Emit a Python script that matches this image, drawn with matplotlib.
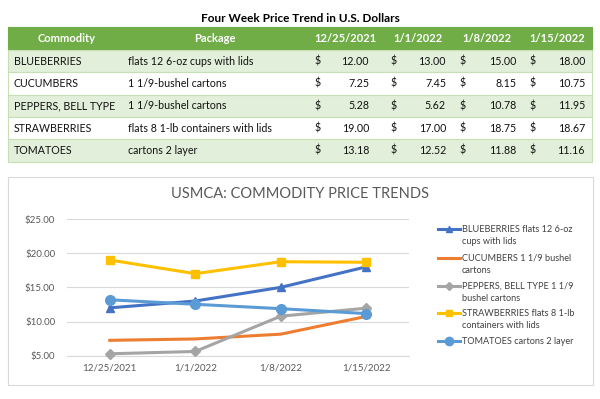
import matplotlib.pyplot as plt
from matplotlib.patches import Rectangle
from matplotlib.ticker import FuncFormatter

plt.rcParams['font.family'] = ['Lato', 'DejaVu Sans']

# data
dates = ['12/25/2021', '1/1/2022', '1/8/2022', '1/15/2022']
commodities = ['BLUEBERRIES', 'CUCUMBERS', 'PEPPERS, BELL TYPE', 'STRAWBERRIES', 'TOMATOES']
packages = ['flats 12 6-oz cups with lids', '1 1/9-bushel cartons', '1 1/9-bushel cartons',
            'flats 8 1-lb containers with lids', 'cartons 2 layer']
legend_labels = ['BLUEBERRIES flats 12 6-oz\ncups with lids',
                 'CUCUMBERS 1 1/9 bushel\ncartons',
                 'PEPPERS, BELL TYPE 1 1/9\nbushel cartons',
                 'STRAWBERRIES flats 8 1-lb\ncontainers with lids',
                 'TOMATOES cartons 2 layer']
blueberries = [12.00, 13.00, 15.00, 18.00]
cucumbers = [7.25, 7.45, 8.15, 10.75]
peppers = [5.28, 5.62, 10.78, 11.95]
strawberries = [19.00, 17.00, 18.75, 18.67]
tomatoes = [13.18, 12.52, 11.88, 11.16]
prices = [blueberries, cucumbers, peppers, strawberries, tomatoes]

colors = ['#4472C4', '#ED7D31', '#A5A5A5', '#FFC000', '#5B9BD5']
markers = ['^', None, 'D', 's', 'o']
msizes = [6, 0, 5, 6, 7]

fig = plt.figure(figsize=(6, 3.99), dpi=100)
bg = fig.add_axes([0, 0, 1, 1])
bg.set_xlim(0, 600)
bg.set_ylim(399, 0)
bg.axis('off')

# ---- table ----
bg.text(300, 19, 'Four Week Price Trend in U.S. Dollars', ha='center', va='center',
        fontsize=8.5, fontweight='bold', color='#000000')
tx0, tx1 = 7.5, 592
bg.add_patch(Rectangle((tx0, 27), tx1 - tx0, 23, fc='#70AD47', ec='#70AD47', lw=0.8))
head_x = [67, 215, 345, 418, 487, 557]
for x, h in zip(head_x, ['Commodity', 'Package'] + dates):
    bg.text(x, 38.5, h, ha='center', va='center', fontsize=8, fontweight='bold', color='white')

row_h = 22.3
dollar_x = [318, 394, 463, 533]
value_x = [369, 446, 516, 585]
for i in range(len(commodities)):
    top = 50 + i * row_h
    fc = '#E2EFDA' if i % 2 == 0 else 'white'
    bg.add_patch(Rectangle((tx0, top), tx1 - tx0, row_h, fc=fc, ec='#C6E0B4', lw=0.8))
    yc = top + row_h / 2
    bg.text(14, yc, commodities[i], ha='left', va='center', fontsize=7.7, color='#111111')
    bg.text(128, yc, packages[i], ha='left', va='center', fontsize=7.7, color='#111111')
    for j in range(len(dates)):
        bg.text(dollar_x[j], yc, '$', ha='center', va='center', fontsize=7.7, color='#111111')
        bg.text(value_x[j], yc, '%.2f' % prices[i][j], ha='right', va='center',
                fontsize=7.7, color='#111111')

# ---- chart ----
bg.add_patch(Rectangle((7.5, 177), 585.5, 208, fc='white', ec='#D9D9D9', lw=0.8))
bg.text(300, 194, 'USMCA: COMMODITY PRICE TRENDS', ha='center', va='center',
        fontsize=10.5, color='#595959')

ax = fig.add_axes([67 / 600, (399 - 355.7) / 399, (409 - 67) / 600, (355.7 - 219) / 399])
ax.set_facecolor('none')
x = list(range(len(dates)))
for vals, c, m, ms in zip(prices, colors, markers, msizes):
    ax.plot(x, vals, color=c, lw=2.2, marker=m, markersize=ms, clip_on=False, zorder=3)
ax.set_xlim(-0.5, len(dates) - 0.5)
ax.set_ylim(5, 25)
ax.set_yticks([5, 10, 15, 20, 25])
ax.yaxis.set_major_formatter(FuncFormatter(lambda v, p: '$%.2f' % v))
ax.set_xticks(x)
ax.set_xticklabels(dates)
ax.grid(axis='y', color='#D9D9D9', lw=0.8)
ax.set_axisbelow(True)
for s in ['top', 'right', 'left']:
    ax.spines[s].set_visible(False)
ax.spines['bottom'].set_color('#D9D9D9')
ax.spines['bottom'].set_linewidth(0.8)
ax.tick_params(length=0, labelsize=7, labelcolor='#595959')
ax.tick_params(axis='y', pad=8.5)
ax.tick_params(axis='x', pad=5.5)

# legend drawn by hand so the key sits on the first text line
leg_y = [229.3, 257.7, 285.7, 313, 341]
for lab, c, m, ms, y in zip(legend_labels, colors, markers, msizes, leg_y):
    bg.plot([438, 460], [y, y], color=c, lw=2.2)
    if m:
        bg.plot([449], [y], color=c, marker=m, markersize=ms - 1)
    for k, line in enumerate(lab.split('\n')):
        bg.text(462, y + k * 12.4, line, ha='left', va='center', fontsize=6.6, color='#404040')

fig.savefig('out.png', dpi=100)
